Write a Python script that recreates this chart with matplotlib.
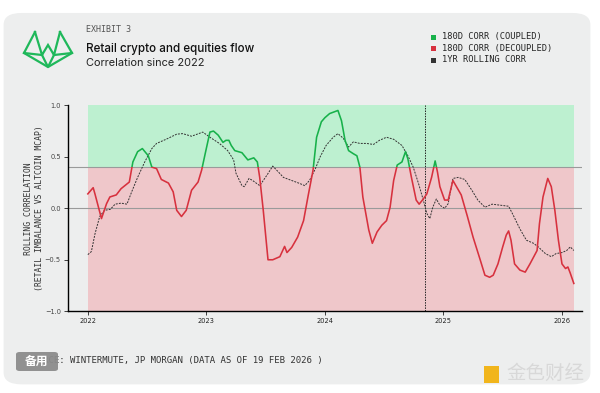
import matplotlib
matplotlib.use("Agg")
import matplotlib.pyplot as plt
from matplotlib.patches import FancyBboxPatch, Rectangle
from matplotlib.lines import Line2D
import numpy as np

# 180d rolling correlation (fractional years)
corr_t = [2022.00, 2022.045, 2022.06, 2022.115, 2022.158, 2022.186, 2022.24, 2022.28, 2022.35, 2022.38,
          2022.42, 2022.46, 2022.51, 2022.54, 2022.58, 2022.62, 2022.68, 2022.72, 2022.75, 2022.79,
          2022.83, 2022.875, 2022.93, 2022.96, 2022.99, 2023.03, 2023.06, 2023.10, 2023.14, 2023.165,
          2023.19, 2023.21, 2023.24, 2023.30, 2023.35, 2023.40, 2023.43, 2023.45, 2023.48, 2023.52,
          2023.56, 2023.62, 2023.66, 2023.68, 2023.72, 2023.77, 2023.82, 2023.86, 2023.90, 2023.93,
          2023.97, 2024.00, 2024.04, 2024.11, 2024.14, 2024.17, 2024.20, 2024.24, 2024.27, 2024.295,
          2024.32, 2024.37, 2024.40, 2024.44, 2024.48, 2024.52, 2024.55, 2024.58, 2024.61, 2024.65,
          2024.68, 2024.70, 2024.73, 2024.77, 2024.795, 2024.83, 2024.86, 2024.90, 2024.93, 2024.95,
          2024.97, 2025.01, 2025.04, 2025.08, 2025.11, 2025.15, 2025.20, 2025.25, 2025.31, 2025.35,
          2025.39, 2025.42, 2025.46, 2025.50, 2025.53, 2025.55, 2025.57, 2025.60, 2025.645, 2025.69,
          2025.73, 2025.79, 2025.81, 2025.84, 2025.88, 2025.91, 2025.94, 2025.97, 2026.00, 2026.03,
          2026.05, 2026.07, 2026.10]
corr_180d = [0.14, 0.20, 0.14, -0.10, 0.045, 0.11, 0.13, 0.19, 0.255, 0.45,
             0.55, 0.58, 0.51, 0.40, 0.385, 0.28, 0.245, 0.16, -0.02, -0.08,
             -0.02, 0.175, 0.255, 0.37, 0.53, 0.74, 0.75, 0.71, 0.64, 0.66,
             0.66, 0.61, 0.56, 0.54, 0.47, 0.49, 0.45, 0.30, -0.02, -0.50,
             -0.50, -0.47, -0.37, -0.43, -0.38, -0.28, -0.12, 0.13, 0.37, 0.69,
             0.84, 0.88, 0.92, 0.95, 0.85, 0.66, 0.56, 0.53, 0.51, 0.40,
             0.11, -0.21, -0.34, -0.23, -0.165, -0.12, 0.01, 0.27, 0.42, 0.45,
             0.55, 0.48, 0.30, 0.08, 0.04, 0.09, 0.14, 0.30, 0.46, 0.35,
             0.21, 0.08, 0.08, 0.27, 0.21, 0.13, -0.07, -0.28, -0.50, -0.65,
             -0.67, -0.65, -0.54, -0.375, -0.26, -0.22, -0.31, -0.54, -0.60, -0.62,
             -0.54, -0.41, -0.15, 0.11, 0.29, 0.21, -0.02, -0.31, -0.54, -0.585,
             -0.57, -0.63, -0.73]

# 1yr rolling correlation
roll_t = [2022.00, 2022.03, 2022.06, 2022.10, 2022.14, 2022.19, 2022.23, 2022.28, 2022.33, 2022.37,
          2022.42, 2022.48, 2022.54, 2022.58, 2022.66, 2022.75, 2022.80, 2022.875, 2022.97, 2023.03,
          2023.11, 2023.18, 2023.23, 2023.25, 2023.30, 2023.32, 2023.36, 2023.39, 2023.45, 2023.51,
          2023.56, 2023.61, 2023.65, 2023.72, 2023.79, 2023.83, 2023.87, 2023.92, 2023.96, 2024.01,
          2024.07, 2024.11, 2024.155, 2024.20, 2024.24, 2024.295, 2024.35, 2024.41, 2024.46, 2024.52,
          2024.58, 2024.65, 2024.70, 2024.745, 2024.79, 2024.83, 2024.86, 2024.885, 2024.91, 2024.94,
          2024.97, 2025.01, 2025.04, 2025.08, 2025.125, 2025.18, 2025.24, 2025.29, 2025.35, 2025.41,
          2025.48, 2025.55, 2025.59, 2025.645, 2025.70, 2025.76, 2025.80, 2025.86, 2025.91, 2025.95,
          2026.00, 2026.04, 2026.07, 2026.10]
corr_1yr = [-0.45, -0.42, -0.25, -0.08, -0.02, -0.01, 0.04, 0.05, 0.04, 0.16,
            0.30, 0.45, 0.58, 0.63, 0.67, 0.72, 0.725, 0.70, 0.74, 0.69,
            0.63, 0.56, 0.47, 0.34, 0.22, 0.21, 0.29, 0.27, 0.22, 0.32,
            0.41, 0.35, 0.30, 0.27, 0.24, 0.22, 0.27, 0.385, 0.50, 0.61,
            0.69, 0.725, 0.68, 0.595, 0.645, 0.63, 0.63, 0.62, 0.66, 0.69,
            0.67, 0.61, 0.51, 0.40, 0.24, 0.08, -0.05, -0.10, 0.01, 0.09,
            0.03, 0.0, 0.045, 0.29, 0.30, 0.28, 0.175, 0.08, 0.01, 0.04,
            0.03, 0.02, -0.07, -0.20, -0.31, -0.34, -0.375, -0.44, -0.47, -0.44,
            -0.43, -0.41, -0.375, -0.41]

years = [2022, 2023, 2024, 2025, 2026]
threshold = 0.4
election = 2024.846

card = "#edeeee"
green_fill = "#bdf0d0"
red_fill = "#efc7ca"
green = "#17b14a"
red = "#d7313e"

fig = plt.figure(figsize=(6, 3.93), dpi=100)
fig.patch.set_facecolor("white")
bg = FancyBboxPatch((0.006, 0.022), 0.978, 0.945, boxstyle="round,pad=0,rounding_size=0.03",
                    transform=fig.transFigure, facecolor=card, edgecolor="none", zorder=-10)
fig.add_artist(bg)

ax = fig.add_axes([0.113, 0.208, 0.857, 0.524])
ax.set_zorder(1)
ax.set_facecolor("none")
ax.set_xlim(2021.831, 2026.169)
ax.set_ylim(-1, 1)

x0, x1 = corr_t[0], corr_t[-1]
ax.fill_between([x0, x1], threshold, 1, color=green_fill, lw=0, zorder=1)
ax.fill_between([x0, x1], -1, threshold, color=red_fill, lw=0, zorder=1)
ax.axhline(threshold, color="#9a9a9a", lw=0.8, zorder=2)
ax.axhline(0, color="#9a9a9a", lw=0.8, zorder=2)
ax.axvline(election, color="#222222", lw=0.7, ls=(0, (1.5, 1.2)), zorder=3)

ax.plot(roll_t, corr_1yr, color="#333333", lw=0.7, ls=(0, (2, 1.2)), zorder=4)

above = Rectangle((2021, threshold), 10, 5, transform=ax.transData)
below = Rectangle((2021, -5), 10, 5 + threshold, transform=ax.transData)
lg, = ax.plot(corr_t, corr_180d, color=green, lw=1.15, zorder=5, solid_joinstyle="round")
lg.set_clip_path(above)
lr, = ax.plot(corr_t, corr_180d, color=red, lw=1.15, zorder=5, solid_joinstyle="round")
lr.set_clip_path(below)

for s in ["top", "right"]:
    ax.spines[s].set_visible(False)
ax.spines["left"].set_linewidth(1.0)
ax.spines["bottom"].set_linewidth(1.0)
ax.set_yticks([-1.0, -0.5, 0.0, 0.5, 1.0])
ax.set_yticklabels(["\u22121.0", "\u22120.5", "0.0", "0.5", "1.0"])
ax.set_xticks(years)
ax.set_xticklabels([str(y) for y in years])
ax.tick_params(axis="both", labelsize=4.8, colors="#222222", length=3, width=0.6, pad=2)
ax.tick_params(axis="y", labelcolor="#444444")

mono = "DejaVu Sans Mono"
ax.set_ylabel("ROLLING CORRELATION\n(RETAIL IMBALANCE VS ALTCOIN MCAP)", family=mono, fontsize=5.9,
              color="#333333", linespacing=1.35)
ax.yaxis.set_label_coords(-0.046, 0.5)

# header
fig.text(86 / 600, 1 - 30 / 393, "EXHIBIT 3", family=mono, fontsize=6, color="#555555", va="center")
fig.text(86 / 600, 1 - 49 / 393, "Retail crypto and equities flow", family="Inter", fontsize=8.4,
         fontweight="medium", color="#111111", va="center")
fig.text(86 / 600, 1 - 62.5 / 393, "Correlation since 2022", family="Inter", fontsize=7.9,
         color="#222222", va="center")

# logo
logo_pts = [[(35, 32), (24, 53), (48, 67), (72, 53), (60, 32)],
            [(35, 32), (42, 55), (48, 45), (54, 55), (60, 32)],
            [(42, 55), (48, 67), (54, 55)],
            [(24, 53), (42, 55)], [(54, 55), (72, 53)]]
for seg in logo_pts:
    xs = [p[0] / 600 for p in seg]
    ys = [1 - p[1] / 393 for p in seg]
    fig.add_artist(Line2D(xs, ys, transform=fig.transFigure, color="#1fb85a", lw=1.6,
                          solid_joinstyle="miter"))

# legend
legend_items = [("180D CORR (COUPLED)", green), ("180D CORR (DECOUPLED)", red), ("1YR ROLLING CORR", "#333333")]
for i, (lab, c) in enumerate(legend_items):
    yy = 1 - (37 + i * 11.5) / 393
    fig.add_artist(Rectangle((431 / 600, yy - 2.5 / 393), 5 / 600, 5 / 393, transform=fig.transFigure,
                             facecolor=c, edgecolor="none"))
    fig.text(442 / 600, yy, lab, family=mono, fontsize=6.3, color="#222222", va="center")

fig.text(27 / 600, 1 - 360 / 393, "SOURCE: WINTERMUTE, JP MORGAN (DATA AS OF 19 FEB 2026 )", family=mono,
         fontsize=6.5, color="#333333", va="center")

# watermarks
fig.add_artist(FancyBboxPatch((16 / 600, 1 - 371 / 393), 42 / 600, 19 / 393,
                              boxstyle="round,pad=0,rounding_size=0.006", transform=fig.transFigure,
                              facecolor="#8c8c8c", edgecolor="none", alpha=0.95, zorder=5))
fig.text(37 / 600, 1 - 361.5 / 393, "备用", family=["Noto Sans CJK SC"], fontsize=8.5, fontweight="bold",
         color="white", ha="center", va="center", zorder=6)
fig.add_artist(Rectangle((484 / 600, 1 - 383 / 393), 15 / 600, 17 / 393, transform=fig.transFigure,
                         facecolor="#f1b51c", edgecolor="none"))
fig.text(545 / 600, 1 - 373 / 393, "金色财经", family=["Noto Sans CJK SC"], fontsize=14,
         color="#d8d8d8", ha="center", va="center")

fig.savefig("out.png", dpi=100, facecolor="white")
